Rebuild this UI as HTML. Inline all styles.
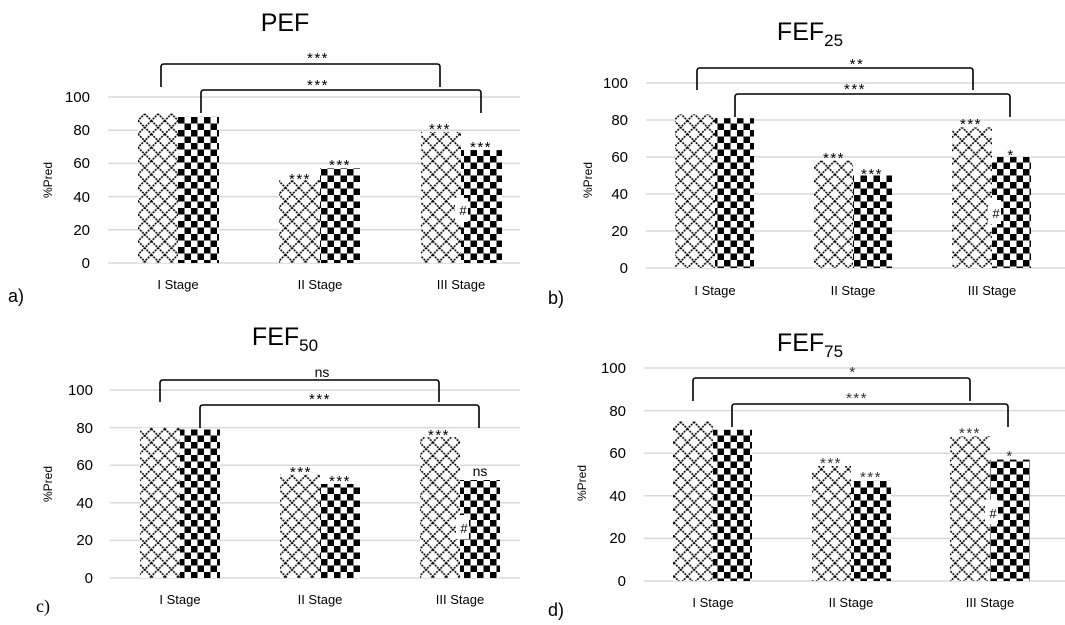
<!DOCTYPE html>
<html><head><meta charset="utf-8"><style>
html,body{margin:0;padding:0;background:#fff;}
svg{display:block;font-family:"Liberation Sans",sans-serif;}
</style></head><body>
<svg width="1065" height="625" viewBox="0 0 1065 625" xmlns="http://www.w3.org/2000/svg">
<defs>
<pattern id="dia" width="13.4" height="13.4" patternUnits="userSpaceOnUse" x="138" y="0">
<rect width="13.4" height="13.4" fill="#fff"/>
<path d="M0 0L13.4 13.4M13.4 0L0 13.4" stroke="#000" stroke-width="1.6" stroke-dasharray="2 1"/>
</pattern>
<pattern id="chk" width="13" height="13" patternUnits="userSpaceOnUse" x="178" y="0">
<rect width="13" height="13" fill="#fff"/>
<rect x="0" y="0" width="6.5" height="6.5" fill="#000"/>
<rect x="6.5" y="6.5" width="6.5" height="6.5" fill="#000"/>
</pattern>
<style>.st{font-size:15px;letter-spacing:1.5px;}</style>
</defs>
<g fill="#000">

<!-- Panel a -->
<g stroke="#d9d9d9" stroke-width="1.5">
<line x1="108" y1="263" x2="520" y2="263"/><line x1="108" y1="229.8" x2="520" y2="229.8"/><line x1="108" y1="196.6" x2="520" y2="196.6"/><line x1="108" y1="163.4" x2="520" y2="163.4"/><line x1="108" y1="130.2" x2="520" y2="130.2"/><line x1="108" y1="97" x2="520" y2="97"/>
</g>
<g font-size="15" text-anchor="end">
<text x="90" y="268">0</text><text x="90" y="235">20</text><text x="90" y="202">40</text><text x="90" y="168">60</text><text x="90" y="135">80</text><text x="90" y="102">100</text>
</g>
<text transform="translate(52,180) rotate(-90)" font-size="12" text-anchor="middle">%Pred</text>
<rect x="138" y="113.6" width="40" height="149.4" fill="url(#dia)"/>
<rect x="178" y="116.9" width="41" height="146.1" fill="url(#chk)"/>
<rect x="279" y="180" width="41" height="83" fill="url(#dia)"/>
<rect x="320" y="168.4" width="40" height="94.6" fill="url(#chk)"/>
<rect x="421" y="131.9" width="40" height="131.1" fill="url(#dia)"/>
<rect x="461" y="150.1" width="41" height="112.9" fill="url(#chk)"/>
<rect x="455" y="198" width="13" height="24" fill="#fff"/><text x="463" y="215" font-size="13" text-anchor="middle">#</text>
<g font-size="13" text-anchor="middle">
<text x="178" y="289">I Stage</text><text x="320" y="289">II Stage</text><text x="461" y="289">III Stage</text>
</g>
<text x="285" y="31" font-size="25" text-anchor="middle">PEF</text>
<path d="M161 87V67Q161 64 164 64H437Q440 64 440 67V87M201 113V93Q201 90 204 90H478Q481 90 481 93V113" fill="none" stroke="#000" stroke-width="1.6"/>
<g class="st" text-anchor="middle">
<text x="318" y="63">***</text><text x="318" y="90">***</text>
<text x="300" y="184">***</text><text x="340" y="170">***</text><text x="440" y="134">***</text><text x="481" y="152">***</text>
</g>
<text x="8" y="302" font-size="18">a)</text>

<!-- Panel b -->
<g stroke="#d9d9d9" stroke-width="1.5">
<line x1="646" y1="268" x2="1065" y2="268"/><line x1="646" y1="231" x2="1065" y2="231"/><line x1="646" y1="194" x2="1065" y2="194"/><line x1="646" y1="157" x2="1065" y2="157"/><line x1="646" y1="120" x2="1065" y2="120"/><line x1="646" y1="83" x2="1065" y2="83"/>
</g>
<g font-size="15" text-anchor="end">
<text x="628" y="273">0</text><text x="628" y="236">20</text><text x="628" y="199">40</text><text x="628" y="162">60</text><text x="628" y="125">80</text><text x="628" y="88">100</text>
</g>
<text transform="translate(592,180) rotate(-90)" font-size="12" text-anchor="middle">%Pred</text>
<rect x="675" y="114.4" width="40" height="153.6" fill="url(#dia)"/>
<rect x="715" y="118.2" width="39" height="149.8" fill="url(#chk)"/>
<rect x="814" y="160.7" width="39" height="107.3" fill="url(#dia)"/>
<rect x="853" y="175.5" width="39" height="92.5" fill="url(#chk)"/>
<rect x="952" y="127.4" width="40" height="140.6" fill="url(#dia)"/>
<rect x="992" y="157" width="39" height="111" fill="url(#chk)"/>
<rect x="988" y="200" width="13" height="24" fill="#fff"/><text x="996" y="218" font-size="13" text-anchor="middle">#</text>
<g font-size="13" text-anchor="middle">
<text x="715" y="295">I Stage</text><text x="853" y="295">II Stage</text><text x="992" y="295">III Stage</text>
</g>
<text x="810" y="40" font-size="25" text-anchor="middle">FEF<tspan font-size="17" dy="6">25</tspan></text>
<path d="M697 90V71Q697 68 700 68H970Q973 68 973 71V90M735 117V97Q735 94 738 94H1007Q1010 94 1010 97V117" fill="none" stroke="#000" stroke-width="1.6"/>
<g class="st" text-anchor="middle">
<text x="857" y="69">**</text><text x="855" y="94">***</text>
<text x="834" y="163">***</text><text x="872" y="179">***</text><text x="971" y="129">***</text><text x="1011" y="160">*</text>
</g>
<text x="548" y="304" font-size="18">b)</text>

<!-- Panel c -->
<g stroke="#d9d9d9" stroke-width="1.5">
<line x1="110" y1="578" x2="520" y2="578"/><line x1="110" y1="540.4" x2="520" y2="540.4"/><line x1="110" y1="502.8" x2="520" y2="502.8"/><line x1="110" y1="465.2" x2="520" y2="465.2"/><line x1="110" y1="427.6" x2="520" y2="427.6"/><line x1="110" y1="390" x2="520" y2="390"/>
</g>
<g font-size="15" text-anchor="end">
<text x="93" y="583">0</text><text x="93" y="545">20</text><text x="93" y="508">40</text><text x="93" y="470">60</text><text x="93" y="433">80</text><text x="93" y="395">100</text>
</g>
<text transform="translate(52,484) rotate(-90)" font-size="12" text-anchor="middle">%Pred</text>
<rect x="140" y="427.6" width="40" height="150.4" fill="url(#dia)"/>
<rect x="180" y="429.5" width="40" height="148.5" fill="url(#chk)"/>
<rect x="280" y="474.6" width="40" height="103.4" fill="url(#dia)"/>
<rect x="320" y="484" width="40" height="94" fill="url(#chk)"/>
<rect x="420" y="437" width="40" height="141" fill="url(#dia)"/>
<rect x="460" y="480" width="40" height="98" fill="url(#chk)"/>
<rect x="456" y="515" width="13" height="24" fill="#fff"/><text x="464" y="533" font-size="13" text-anchor="middle">#</text>
<g font-size="13" text-anchor="middle">
<text x="180" y="604">I Stage</text><text x="320" y="604">II Stage</text><text x="460" y="604">III Stage</text>
</g>
<text x="285" y="345" font-size="25" text-anchor="middle">FEF<tspan font-size="17" dy="6">50</tspan></text>
<path d="M160 402V383Q160 380 163 380H436Q439 380 439 383V402M200 428V408Q200 405 203 405H476Q479 405 479 408V428" fill="none" stroke="#000" stroke-width="1.6"/>
<g class="st" text-anchor="middle">
<text x="320" y="404">***</text>
<text x="301" y="477">***</text><text x="340" y="486">***</text><text x="439" y="440">***</text>
</g>
<g font-size="14" text-anchor="middle">
<text x="322" y="377">ns</text><text x="480" y="476">ns</text>
</g>
<text x="36" y="612" font-size="18" font-family="Liberation Serif,serif">c)</text>

<!-- Panel d -->
<g stroke="#d9d9d9" stroke-width="1.5">
<line x1="644" y1="581" x2="1065" y2="581"/><line x1="644" y1="538.4" x2="1065" y2="538.4"/><line x1="644" y1="495.8" x2="1065" y2="495.8"/><line x1="644" y1="453.2" x2="1065" y2="453.2"/><line x1="644" y1="410.6" x2="1065" y2="410.6"/><line x1="644" y1="368" x2="1065" y2="368"/>
</g>
<g font-size="15" text-anchor="end">
<text x="626" y="586">0</text><text x="626" y="543">20</text><text x="626" y="501">40</text><text x="626" y="458">60</text><text x="626" y="416">80</text><text x="626" y="373">100</text>
</g>
<text transform="translate(586,483) rotate(-90)" font-size="12" text-anchor="middle">%Pred</text>
<rect x="673" y="421.3" width="40" height="159.7" fill="url(#dia)"/>
<rect x="713" y="429.8" width="39" height="151.2" fill="url(#chk)"/>
<rect x="812" y="466" width="39" height="115" fill="url(#dia)"/>
<rect x="851" y="480.9" width="40" height="100.1" fill="url(#chk)"/>
<rect x="950" y="436.2" width="40" height="144.8" fill="url(#dia)"/>
<rect x="990" y="459.6" width="40" height="121.4" fill="url(#chk)"/>
<rect x="985" y="500" width="13" height="24" fill="#fff"/><text x="993" y="518" font-size="13" text-anchor="middle">#</text>
<g font-size="13" text-anchor="middle">
<text x="713" y="607">I Stage</text><text x="851" y="607">II Stage</text><text x="990" y="607">III Stage</text>
</g>
<text x="810" y="351" font-size="25" text-anchor="middle">FEF<tspan font-size="17" dy="6">75</tspan></text>
<path d="M693 401V381Q693 378 696 378H967Q970 378 970 381V401M732 427V407Q732 404 735 404H1005Q1008 404 1008 407V427" fill="none" stroke="#000" stroke-width="1.6"/>
<g class="st" text-anchor="middle" fill="#333">
<text x="853" y="377">*</text><text x="857" y="403">***</text>
<text x="831" y="468">***</text><text x="871" y="482">***</text><text x="970" y="438">***</text><text x="1010" y="461">*</text>
</g>
<text x="548" y="616" font-size="18">d)</text>
</g>
</svg>
</body></html>
